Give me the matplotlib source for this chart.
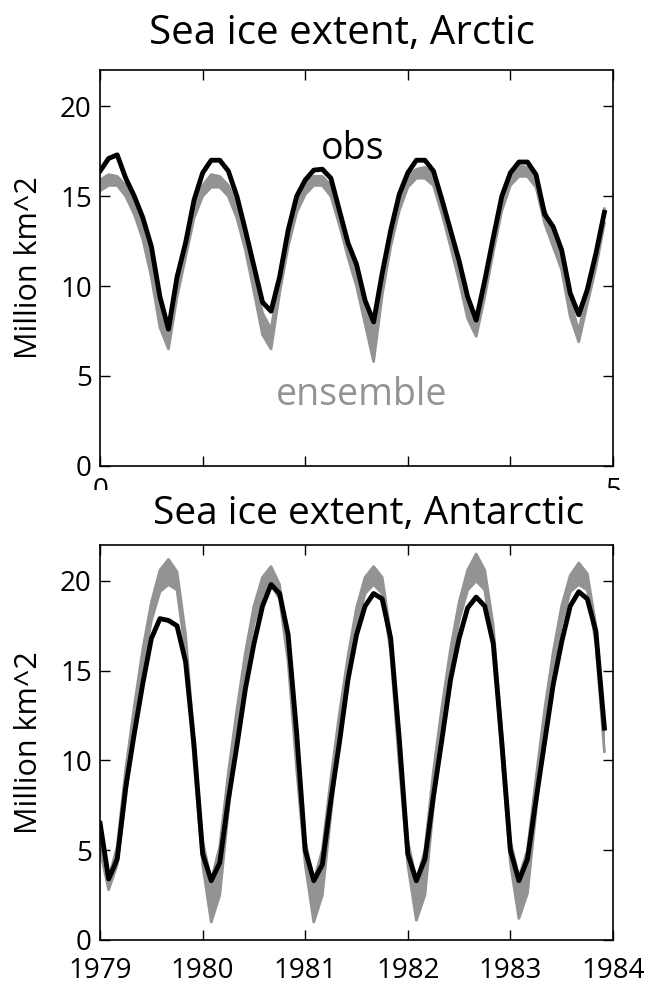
import numpy as np
import matplotlib
matplotlib.use('Agg')
import matplotlib.pyplot as plt
from matplotlib.patches import Rectangle

plt.rcParams['font.family'] = ['Open Sans', 'DejaVu Sans']

# monthly sea ice extent, million km^2, Jan 1979 - Dec 1983
arctic_obs = [16.4, 17.1, 17.3, 16.0, 15.0, 13.8, 12.2, 9.4, 7.6, 10.5, 12.4, 14.8,
              16.3, 17.0, 17.0, 16.4, 15.0, 13.1, 11.1, 9.1, 8.6, 10.5, 13.1, 15.0,
              15.9, 16.45, 16.5, 16.0, 14.2, 12.4, 11.2, 9.2, 8.0, 10.7, 13.1, 15.1,
              16.3, 17.0, 17.0, 16.4, 14.8, 13.1, 11.4, 9.4, 8.1, 10.3, 12.7, 15.0,
              16.3, 16.9, 16.9, 16.2, 14.0, 13.3, 12.0, 9.6, 8.4, 9.8, 11.8, 14.1]

arctic_ens_high = [15.9, 16.2, 16.1, 15.6, 14.6, 13.3, 11.5, 8.9, 7.5, 10.2, 12.4, 14.6,
                   15.6, 16.2, 16.1, 15.6, 14.6, 12.8, 10.6, 8.5, 7.6, 10.4, 13.0, 14.9,
                   15.7, 16.1, 16.1, 15.6, 14.2, 12.4, 10.9, 8.9, 7.5, 10.4, 13.0, 15.0,
                   16.1, 16.5, 16.6, 16.2, 14.7, 13.0, 11.2, 9.1, 7.6, 10.1, 12.7, 15.0,
                   16.2, 16.7, 16.6, 16.1, 14.3, 13.0, 11.7, 9.2, 7.5, 9.8, 11.8, 14.3]

arctic_ens_low = [15.3, 15.6, 15.6, 15.0, 14.0, 12.6, 10.5, 7.7, 6.5, 9.4, 11.6, 13.8,
                  15.0, 15.5, 15.5, 15.0, 13.8, 12.0, 9.7, 7.3, 6.5, 9.6, 12.2, 14.1,
                  15.1, 15.6, 15.6, 15.0, 13.4, 11.6, 10.0, 7.9, 5.8, 9.5, 12.2, 14.2,
                  15.5, 16.0, 16.0, 15.6, 14.0, 12.2, 10.3, 8.2, 7.2, 9.4, 11.9, 14.2,
                  15.6, 16.1, 16.1, 15.5, 13.5, 12.2, 10.9, 8.3, 6.9, 9.0, 11.0, 13.5]

antarctic_obs = [6.5, 3.4, 4.5, 8.5, 11.5, 14.3, 16.8, 17.9, 17.8, 17.5, 15.5, 10.8,
                 4.8, 3.3, 4.3, 7.8, 10.8, 14.0, 16.5, 18.6, 19.8, 19.3, 17.0, 11.5,
                 5.0, 3.3, 4.2, 7.8, 11.0, 14.5, 17.0, 18.6, 19.3, 19.0, 16.8, 11.2,
                 4.8, 3.3, 4.5, 8.0, 11.2, 14.5, 16.8, 18.5, 19.1, 18.6, 16.5, 11.0,
                 5.0, 3.3, 4.5, 7.8, 11.0, 14.2, 16.6, 18.6, 19.4, 19.0, 17.2, 11.8]

antarctic_ens_high = [6.0, 3.4, 5.2, 9.5, 13.0, 16.2, 18.8, 20.6, 21.2, 20.5, 17.0, 11.0,
                      5.5, 3.3, 5.2, 9.3, 12.8, 16.0, 18.6, 20.2, 20.8, 19.8, 16.5, 10.5,
                      5.5, 3.3, 5.0, 9.0, 12.6, 15.8, 18.5, 20.2, 20.8, 20.2, 17.0, 11.0,
                      5.5, 3.3, 5.0, 9.4, 13.0, 16.2, 18.8, 20.6, 21.5, 20.6, 17.5, 11.5,
                      5.5, 3.5, 5.0, 9.0, 12.8, 16.0, 18.6, 20.3, 21.0, 20.4, 17.5, 11.8]

antarctic_ens_low = [5.0, 2.8, 4.2, 8.0, 11.8, 15.2, 17.8, 19.4, 19.8, 19.5, 16.0, 9.8,
                     4.2, 1.0, 2.5, 7.2, 11.5, 15.0, 17.6, 19.2, 19.8, 19.0, 15.5, 9.5,
                     4.2, 1.0, 2.5, 7.0, 11.3, 14.8, 17.5, 19.3, 19.8, 19.3, 16.0, 9.8,
                     4.2, 1.1, 2.5, 7.5, 11.8, 15.2, 17.8, 19.5, 20.0, 19.5, 16.5, 10.2,
                     4.3, 1.2, 2.6, 7.2, 11.5, 15.0, 17.6, 19.4, 19.8, 19.5, 16.5, 10.5]

years = [1979, 1980, 1981, 1982, 1983, 1984]
year_labels = ['1979', '1980', '1981', '1982', '1983', '1984']

months = np.arange(len(arctic_obs))
t_top = months / 12.0
t_bot = years[0] + months / 12.0

ens_color = '#939393'

fig = plt.figure(figsize=(6.5, 9.91), dpi=100)
ax1 = fig.add_axes([0.154, 0.530, 0.789, 0.399])
ax2 = fig.add_axes([0.154, 0.0515, 0.789, 0.3985])
ax2.set_zorder(2)


def style_axes(ax):
    ax.set_ylim(0, 22)
    ax.set_yticks([0, 5, 10, 15, 20])
    ax.tick_params(direction='in', length=7, width=1, top=True, right=True,
                   labelsize=20)
    ax.tick_params(axis='y', pad=6)
    for sp in ax.spines.values():
        sp.set_linewidth(1.2)
    ax.set_ylabel('Million km^2', fontsize=22)
    ax.yaxis.set_label_coords(-0.11, 0.5)


# Arctic
ax1.fill_between(t_top, arctic_ens_low, arctic_ens_high, color=ens_color, lw=0)
ax1.plot(t_top, arctic_ens_low, color=ens_color, lw=2)
ax1.plot(t_top, arctic_ens_high, color=ens_color, lw=2)
ax1.plot(t_top, arctic_obs, color='black', lw=3.5)
ax1.set_xlim(0, 5)
ax1.set_xticks([0, 1, 2, 3, 4, 5])
ax1.set_xticklabels(['0', '', '', '', '', '5'])
style_axes(ax1)
ax1.tick_params(axis='x', pad=8)
ax1.set_title('Sea ice extent, Arctic', fontsize=29, pad=19, x=0.472)
ax1.text(2.46, 17.6, 'obs', fontsize=27, ha='center', va='center', color='black')
ax1.text(2.55, 3.95, 'ensemble', fontsize=27, ha='center', va='center', color=ens_color)

# blank strip between the panels
fig.patches.append(Rectangle((0, 0.452), 1, 0.054, transform=fig.transFigure,
                             facecolor='white', edgecolor='none', zorder=1))

# Antarctic
ax2.fill_between(t_bot, antarctic_ens_low, antarctic_ens_high, color=ens_color, lw=0)
ax2.plot(t_bot, antarctic_ens_low, color=ens_color, lw=2)
ax2.plot(t_bot, antarctic_ens_high, color=ens_color, lw=2)
ax2.plot(t_bot, antarctic_obs, color='black', lw=3.5)
ax2.set_xlim(years[0], years[-1])
ax2.set_xticks(years)
ax2.set_xticklabels(year_labels)
style_axes(ax2)
ax2.tick_params(axis='x', pad=12)
ax2.set_title('Sea ice extent, Antarctic', fontsize=28, pad=15, x=0.524)

fig.savefig('out.png', dpi=100)
